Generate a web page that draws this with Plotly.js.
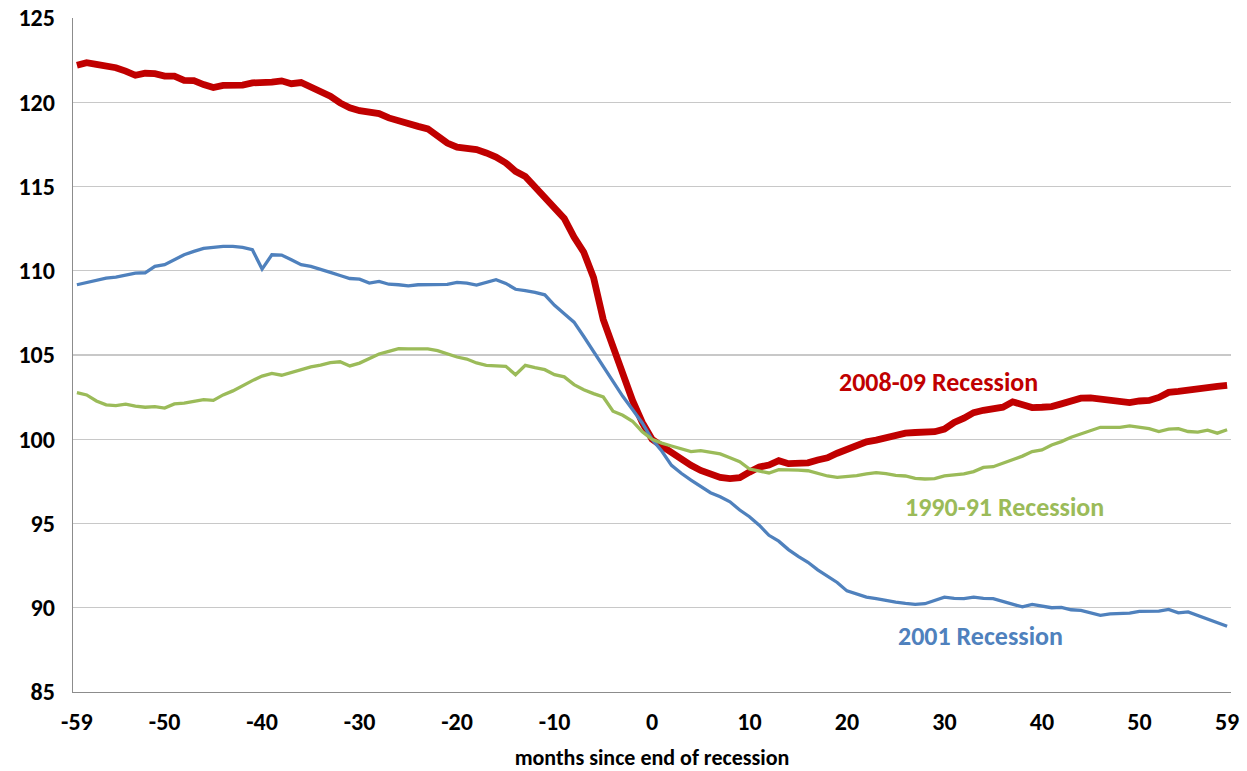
<!DOCTYPE html>
<html>
<head>
<meta charset="utf-8">
<script src="https://cdn.plot.ly/plotly-3.0.1.min.js"></script>
<style>
  html, body { margin: 0; padding: 0; background: #ffffff; }
  #chart { width: 1247px; height: 771px; }
</style>
</head>
<body>
<div id="chart"></div>
<script>
// months since end of recession: -59 .. 59
const months = [];
for (let m = -59; m <= 59; m++) months.push(m);

const xTickVals = [-59, -50, -40, -30, -20, -10, 0, 10, 20, 30, 40, 50, 59];
const yTickVals = [85, 90, 95, 100, 105, 110, 115, 120, 125];

// 2008-09 Recession
const rec2008 = [
  122.2, 122.35, 122.25, 122.2, 122.05, 121.85, 121.6, 121.72, 121.7, 121.55,
  121.55, 121.3, 121.28, 121.05, 120.87, 121.0, 121.0, 121.02, 121.15, 121.15,
  121.2, 121.27, 121.1, 121.17, 120.9, 120.62, 120.36, 119.96, 119.67, 119.5,
  119.44, 119.33, 119.07, 118.87, 118.73, 118.57, 118.42, 117.98, 117.58, 117.33,
  117.29, 117.19, 116.99, 116.75, 116.4, 115.9, 115.6, 115.0, 114.4, 113.8,
  113.1, 112.0, 111.1, 109.6, 107.1, 105.5, 103.9, 102.3, 101.0, 100.0,
  99.6, 99.2, 98.9, 98.45, 98.15, 97.92, 97.74, 97.66, 97.72, 98.05,
  98.35, 98.47, 98.73, 98.55, 98.58, 98.6, 98.77, 98.9, 99.17, 99.42,
  99.66, 99.85, 99.95, 100.1, 100.3, 100.36, 100.4, 100.42, 100.45, 100.6,
  101.0, 101.25, 101.58, 101.72, 101.8, 101.9, 102.22, 102.0, 101.88, 101.9,
  101.94, 102.1, 102.25, 102.44, 102.45, 102.38, 102.3, 102.25, 102.18, 102.27,
  102.3, 102.48, 102.78, 102.84, 102.92, 103.08, 103.1, 103.14, 103.2
];

// 2001 Recession
const rec2001 = [
  109.17, 109.3, 109.43, 109.56, 109.62, 109.74, 109.86, 109.88, 110.26, 110.36,
  110.65, 110.95, 111.15, 111.33, 111.39, 111.45, 111.45, 111.39, 111.25, 110.1,
  110.95, 110.93, 110.65, 110.36, 110.26, 110.1, 109.9, 109.72, 109.54, 109.5,
  109.27, 109.37, 109.2, 109.17, 109.1, 109.17, 109.19, 109.19, 109.19, 109.31,
  109.27, 109.15, 109.31, 109.47, 109.25, 108.9, 108.82, 108.72, 108.57, 107.95,
  107.45, 106.95, 106.1, 105.22, 104.33, 103.44, 102.55, 101.76, 100.97, 100.0,
  99.3, 98.45, 97.98, 97.58, 97.18, 96.83, 96.59, 96.29, 95.8, 95.4,
  94.9, 94.3, 93.95, 93.45, 93.05, 92.7, 92.25, 91.9, 91.5, 91.0,
  90.8, 90.63, 90.54, 90.42, 90.34, 90.26, 90.2, 90.24, 90.44, 90.63,
  90.56, 90.54, 90.63, 90.56, 90.54, 90.36, 90.2, 90.05, 90.2, 90.12,
  90.0, 90.02, 89.88, 89.84, 89.68, 89.55, 89.64, 89.64, 89.68, 89.78,
  89.78, 89.8, 89.9, 89.7, 89.75, 89.55, 89.35, 89.15, 88.9
];

// 1990-91 Recession
const rec1990 = [
  102.77, 102.63, 102.27, 102.04, 102.0, 102.08, 101.96, 101.9, 101.94, 101.85,
  102.1, 102.15, 102.25, 102.35, 102.31, 102.63, 102.87, 103.2, 103.48, 103.75,
  103.91, 103.8, 103.95, 104.11, 104.3, 104.4, 104.55, 104.6, 104.35, 104.52,
  104.81, 105.06, 105.22, 105.38, 105.36, 105.38, 105.36, 105.26, 105.08, 104.88,
  104.76, 104.53, 104.39, 104.35, 104.33, 103.83, 104.39, 104.25, 104.13, 103.83,
  103.7, 103.24, 102.94, 102.71, 102.51, 101.66, 101.42, 101.07, 100.45, 100.0,
  99.77, 99.6, 99.44, 99.27, 99.33, 99.23, 99.13, 98.9, 98.67, 98.23,
  98.1, 98.0, 98.2, 98.2, 98.17, 98.13, 97.98, 97.82, 97.74, 97.78,
  97.84, 97.94, 98.02, 97.96, 97.86, 97.82, 97.68, 97.64, 97.66, 97.82,
  97.88, 97.94, 98.08, 98.33, 98.37, 98.57, 98.81, 99.0, 99.27, 99.37,
  99.66, 99.86, 100.12, 100.32, 100.52, 100.71, 100.71, 100.71, 100.79, 100.71,
  100.63, 100.46, 100.6, 100.63, 100.46, 100.42, 100.54, 100.36, 100.56
];

const seriesNames = ['2008-09 Recession', '2001 Recession', '1990-91 Recession'];
const colors = { red: '#C00000', blue: '#4F81BD', green: '#9BBB59' };

const traces = [
  { x: months, y: rec2008, name: seriesNames[0], type: 'scatter', mode: 'lines',
    line: { color: colors.red, width: 6.8 } },
  { x: months, y: rec2001, name: seriesNames[1], type: 'scatter', mode: 'lines',
    line: { color: colors.blue, width: 3.3 } },
  { x: months, y: rec1990, name: seriesNames[2], type: 'scatter', mode: 'lines',
    line: { color: colors.green, width: 3.3 } }
];

const FAM = 'Carlito, "Open Sans", sans-serif';
const tickFont = { family: FAM, size: 24, color: '#000000', weight: 'bold' };
const annFont = (c) => ({ family: FAM, size: 26, color: c, weight: 'bold' });

const layout = {
  width: 1247, height: 771,
  margin: { l: 73, r: 16, t: 18, b: 79 },
  paper_bgcolor: '#ffffff', plot_bgcolor: '#ffffff',
  showlegend: false,
  xaxis: {
    range: [-59.4, 59.4],
    tickmode: 'array', tickvals: xTickVals, ticktext: xTickVals.map(String),
    showgrid: false, zeroline: false,
    showline: true, linecolor: '#8c8c8c', linewidth: 1.3,
    ticks: '', ticklabelstandoff: 8,
    tickfont: tickFont,
    title: { text: 'months since end of recession', standoff: 16,
             font: { family: FAM, size: 22, color: '#000000', weight: 'bold' } }
  },
  yaxis: {
    range: [85, 125],
    tickmode: 'array', tickvals: yTickVals, ticktext: yTickVals.map(String),
    showgrid: true, gridcolor: '#c8c8c8', gridwidth: 1.3,
    zeroline: false,
    showline: true, linecolor: '#8c8c8c', linewidth: 1.3,
    ticks: '', ticklabelstandoff: 12,
    tickfont: tickFont
  },
  annotations: [
    { x: 29.4, y: 103.4, xref: 'x', yref: 'y', text: seriesNames[0], showarrow: false,
      font: annFont(colors.red) },
    { x: 36.2, y: 95.98, xref: 'x', yref: 'y', text: seriesNames[2], showarrow: false,
      font: annFont(colors.green) },
    { x: 33.7, y: 88.3, xref: 'x', yref: 'y', text: seriesNames[1], showarrow: false,
      font: annFont(colors.blue) }
  ]
};

Plotly.newPlot('chart', traces, layout, { displayModeBar: false, staticPlot: true });
</script>
</body>
</html>
